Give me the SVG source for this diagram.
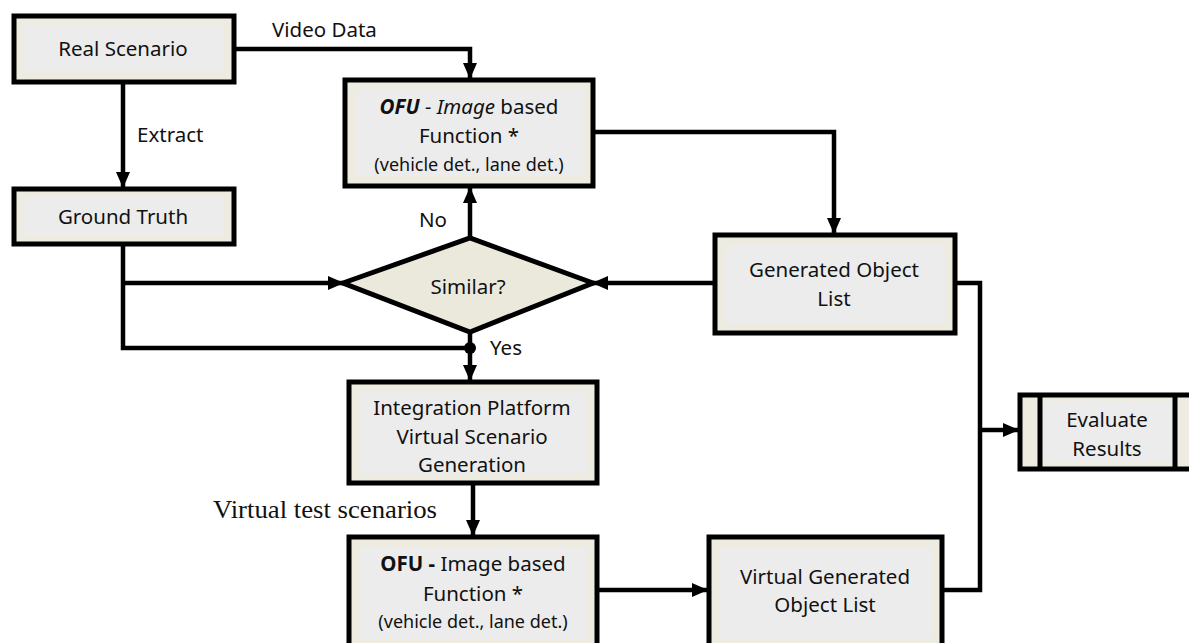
<svg xmlns="http://www.w3.org/2000/svg" width="1189" height="643" viewBox="0 0 1189 643">
<style>
.box{fill:#eeebe0;stroke:#000;stroke-width:5}
.inner{fill:#ececec;stroke:none}
.dia{fill:#ebe8dc;stroke:#000;stroke-width:5;stroke-linejoin:miter}
.t{font-family:"Noto Sans","Open Sans",sans-serif;font-size:20.5px;fill:#111;text-anchor:middle}
.s{font-size:18px}
.lbl{font-family:"Noto Sans","Open Sans",sans-serif;font-size:20.5px;fill:#111}
.serif{font-family:"Liberation Serif","Times New Roman",serif;font-size:25px;fill:#111}
.c{fill:none;stroke:#000;stroke-width:4.5}
.ca{fill:none;stroke:#000;stroke-width:4.5;marker-end:url(#ah)}
</style>
<defs>
<marker id="ah" markerUnits="userSpaceOnUse" markerWidth="16" markerHeight="16" viewBox="0 0 16 16" refX="15" refY="8" orient="auto">
<path d="M0,1 L16,8 L0,15 Z" fill="#000"/>
</marker>
</defs>
<rect width="1189" height="643" fill="#fff"/>

<g id="connectors">
<path class="ca" d="M235,49 H470 V78"/>
<path class="ca" d="M123,83 V187"/>
<path class="ca" d="M595,132 H834 V233"/>
<path class="c" d="M123,245 V348 H470"/>
<path class="ca" d="M123,283 H343"/>
<path class="ca" d="M713,283 H593"/>
<path class="ca" d="M470,238 V188"/>
<path class="ca" d="M470,332 V380"/>
<circle cx="470" cy="348" r="6" fill="#000"/>
<path class="ca" d="M473,485 V535"/>
<path class="ca" d="M599,590 H707"/>
<path class="c" d="M955,283 H980 V590 H942"/>
<path class="ca" d="M980,430 H1018"/>
<text class="lbl" x="272" y="37">Video Data</text>
<text class="lbl" x="137" y="142">Extract</text>
<text class="lbl" x="419" y="227">No</text>
<text class="lbl" x="490" y="355">Yes</text>
<text class="serif" x="213" y="518" textLength="224" lengthAdjust="spacingAndGlyphs">Virtual test scenarios</text>
</g>

<g id="real-scenario">
<rect class="box" x="14" y="16" width="220" height="66"/>
<rect class="inner" x="24" y="26" width="200" height="46"/>
<text class="t" x="123" y="56">Real Scenario</text>
</g>

<g id="ground-truth">
<rect class="box" x="14" y="189" width="220" height="55"/>
<rect class="inner" x="24" y="197" width="200" height="39"/>
<text class="t" x="123" y="224">Ground Truth</text>
</g>

<g id="ofu-1">
<rect class="box" x="345" y="80" width="248" height="106"/>
<rect class="inner" x="355" y="90" width="228" height="86"/>
<text class="t" x="469" y="114"><tspan font-weight="bold" font-style="italic">OFU</tspan><tspan font-style="italic"> - Image</tspan> based</text>
<text class="t" x="469" y="143">Function *</text>
<text class="t s" x="469" y="171">(vehicle det., lane det.)</text>
</g>

<g id="similar">
<polygon class="dia" points="343,283 470,238 593,283 470,332"/>
<text class="t" x="468" y="294">Similar?</text>
</g>

<g id="generated-object-list">
<rect class="box" x="715" y="235" width="240" height="98"/>
<rect class="inner" x="725" y="245" width="220" height="78"/>
<text class="t" x="834" y="277">Generated Object</text>
<text class="t" x="834" y="306">List</text>
</g>

<g id="integration-platform">
<rect class="box" x="349" y="382" width="248" height="101"/>
<rect class="inner" x="359" y="392" width="228" height="81"/>
<text class="t" x="472" y="415">Integration Platform</text>
<text class="t" x="472" y="444">Virtual Scenario</text>
<text class="t" x="472" y="472">Generation</text>
</g>

<g id="ofu-2">
<rect class="box" x="349" y="537" width="248" height="112"/>
<rect class="inner" x="359" y="547" width="228" height="92"/>
<text class="t" x="473" y="571"><tspan font-weight="bold">OFU -</tspan> Image based</text>
<text class="t" x="473" y="601">Function *</text>
<text class="t s" x="473" y="628">(vehicle det., lane det.)</text>
</g>

<g id="virtual-generated-object-list">
<rect class="box" x="709" y="537" width="233" height="112"/>
<rect class="inner" x="719" y="547" width="213" height="92"/>
<text class="t" x="825" y="584">Virtual Generated</text>
<text class="t" x="825" y="612">Object List</text>
</g>

<g id="evaluate-results">
<rect class="box" x="1020" y="395" width="180" height="74"/>
<rect class="inner" x="1043" y="402" width="130" height="60"/>
<line x1="1040" y1="395" x2="1040" y2="469" stroke="#000" stroke-width="5"/>
<line x1="1175" y1="395" x2="1175" y2="469" stroke="#000" stroke-width="5"/>
<text class="t" x="1107" y="427">Evaluate</text>
<text class="t" x="1107" y="456">Results</text>
</g>
</svg>
